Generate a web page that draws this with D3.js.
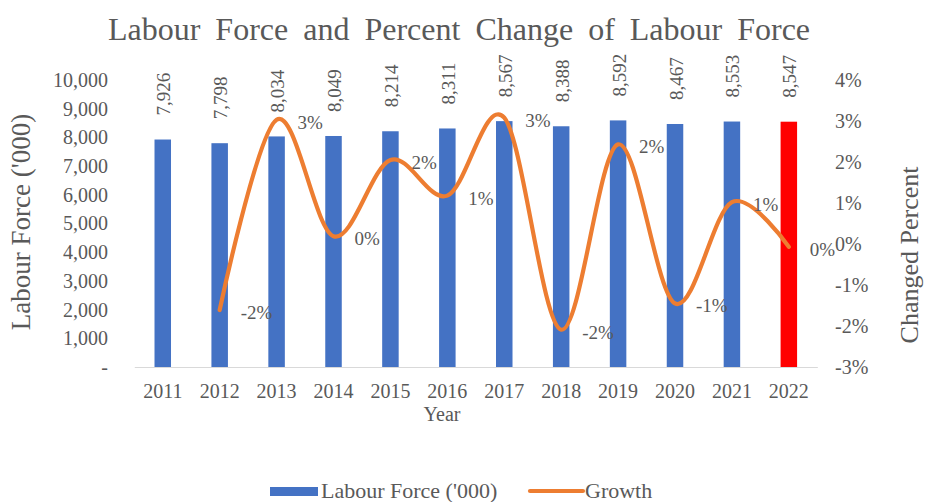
<!DOCTYPE html>
<html>
<head>
<meta charset="utf-8">
<script src="https://cdn.jsdelivr.net/npm/d3@7/dist/d3.min.js"></script>
<style>
  html, body { margin: 0; padding: 0; background: #fff; }
  svg { display: block; font-family: "Liberation Serif", "Times New Roman", serif; }
</style>
</head>
<body>
<svg id="chart" width="925" height="502"></svg>
<script>
// Labour force (thousands) and year-on-year growth
const years = ["2011","2012","2013","2014","2015","2016","2017","2018","2019","2020","2021","2022"];
const labourForce = [7926, 7798, 8034, 8049, 8214, 8311, 8567, 8388, 8592, 8467, 8553, 8547];
// growth in percent; no value for the first year
const growth = [null, -1.61, 3.03, 0.19, 2.05, 1.18, 3.08, -2.09, 2.43, -1.45, 1.02, -0.07];
const leftTicks = [0, 1000, 2000, 3000, 4000, 5000, 6000, 7000, 8000, 9000, 10000];
const rightTicks = [-3, -2, -1, 0, 1, 2, 3, 4];

const svg = d3.select("#chart");
const textColor = "#595959";
const plot = { left: 134.3, right: 817.3, top: 80, bottom: 367 };

const x = d3.scaleBand().domain(years).range([plot.left, plot.right]).padding(0);
const yL = d3.scaleLinear().domain([0, 10000]).range([plot.bottom, plot.top]);
const yR = d3.scaleLinear().domain([-3, 4]).range([plot.bottom, plot.top]);

const fmtThousands = d3.format(",");
const fmtPct = v => { const r = Math.round(v); return (r === 0 ? 0 : r) + "%"; };

// title
svg.append("text")
  .attr("x", 459).attr("y", 40)
  .attr("text-anchor", "middle")
  .attr("font-size", 32)
  .attr("word-spacing", 7)
  .attr("fill", textColor)
  .text("Labour Force and Percent Change of Labour Force");

// left axis
const axL = d3.axisLeft(yL).tickValues(leftTicks)
  .tickFormat(v => v === 0 ? "-" : fmtThousands(v)).tickSize(0).tickPadding(0);
const gL = svg.append("g").attr("transform", `translate(108,0)`).call(axL);
gL.select(".domain").remove();
gL.selectAll("text").attr("font-size", 20).attr("fill", textColor)
  .attr("font-family", "Liberation Serif, serif");

// right axis
const axR = d3.axisRight(yR).tickValues(rightTicks)
  .tickFormat(fmtPct).tickSize(0).tickPadding(0);
const gR = svg.append("g").attr("transform", `translate(835,0)`).call(axR);
gR.select(".domain").remove();
gR.selectAll("text").attr("font-size", 20).attr("fill", textColor)
  .attr("font-family", "Liberation Serif, serif");

// category axis
const axX = d3.axisBottom(x).tickSize(0).tickPadding(0);
const gX = svg.append("g").attr("transform", `translate(0,${plot.bottom})`).call(axX);
gX.select(".domain").attr("stroke", "#d9d9d9").attr("stroke-width", 1.2);
gX.selectAll("text").attr("font-size", 20).attr("fill", textColor)
  .attr("font-family", "Liberation Serif, serif").attr("dy", 0).attr("y", 31);

// axis titles
svg.append("text")
  .attr("x", 442).attr("y", 421)
  .attr("text-anchor", "middle").attr("font-size", 20).attr("fill", textColor)
  .text("Year");
svg.append("text")
  .attr("transform", "translate(30,222) rotate(-90)")
  .attr("text-anchor", "middle").attr("font-size", 27).attr("fill", textColor)
  .text("Labour Force ('000)");
svg.append("text")
  .attr("transform", "translate(918,255) rotate(-90)")
  .attr("text-anchor", "middle").attr("font-size", 26).attr("fill", textColor)
  .text("Changed Percent");

// bars
const barW = 16.5;
const rows = years.map((yr, i) => ({ year: yr, value: labourForce[i], growth: growth[i], last: i === years.length - 1 }));
svg.append("g").selectAll("rect").data(rows).join("rect")
  .attr("x", d => x(d.year) + x.bandwidth() / 2 - barW / 2)
  .attr("y", d => yL(d.value))
  .attr("width", barW)
  .attr("height", d => yL(0) - yL(d.value))
  .attr("fill", d => d.last ? "#ff0000" : "#4472c4");

// bar value labels, rotated
svg.append("g").selectAll("text").data(rows).join("text")
  .attr("transform", d => `translate(${x(d.year) + x.bandwidth() / 2 + 7.5},${yL(d.value) - 24}) rotate(-90)`)
  .attr("font-size", 19).attr("fill", textColor)
  .text(d => fmtThousands(d.value));

// growth line
const pts = rows.filter(d => d.growth !== null);
const line = d3.line()
  .x(d => x(d.year) + x.bandwidth() / 2)
  .y(d => yR(d.growth))
  .curve(d3.curveCardinal.tension(0));
svg.append("path").datum(pts)
  .attr("d", line)
  .attr("fill", "none").attr("stroke", "#ed7d31").attr("stroke-width", 4.2)
  .attr("stroke-linecap", "round").attr("stroke-linejoin", "round");

// growth labels
svg.append("g").selectAll("text").data(pts).join("text")
  .attr("x", d => x(d.year) + x.bandwidth() / 2 + 21)
  .attr("y", d => yR(d.growth) + 9)
  .attr("font-size", 19).attr("fill", textColor)
  .text(d => fmtPct(d.growth));

// legend
const lg = svg.append("g");
lg.append("rect").attr("x", 270).attr("y", 487).attr("width", 48).attr("height", 9).attr("fill", "#4472c4");
lg.append("text").attr("x", 321).attr("y", 498).attr("font-size", 22).attr("fill", textColor)
  .text("Labour Force ('000)");
lg.append("line").attr("x1", 530).attr("x2", 583).attr("y1", 491).attr("y2", 491)
  .attr("stroke", "#ed7d31").attr("stroke-width", 4.2).attr("stroke-linecap", "round");
lg.append("text").attr("x", 585).attr("y", 498).attr("font-size", 22).attr("fill", textColor)
  .text("Growth");
</script>
</body>
</html>
